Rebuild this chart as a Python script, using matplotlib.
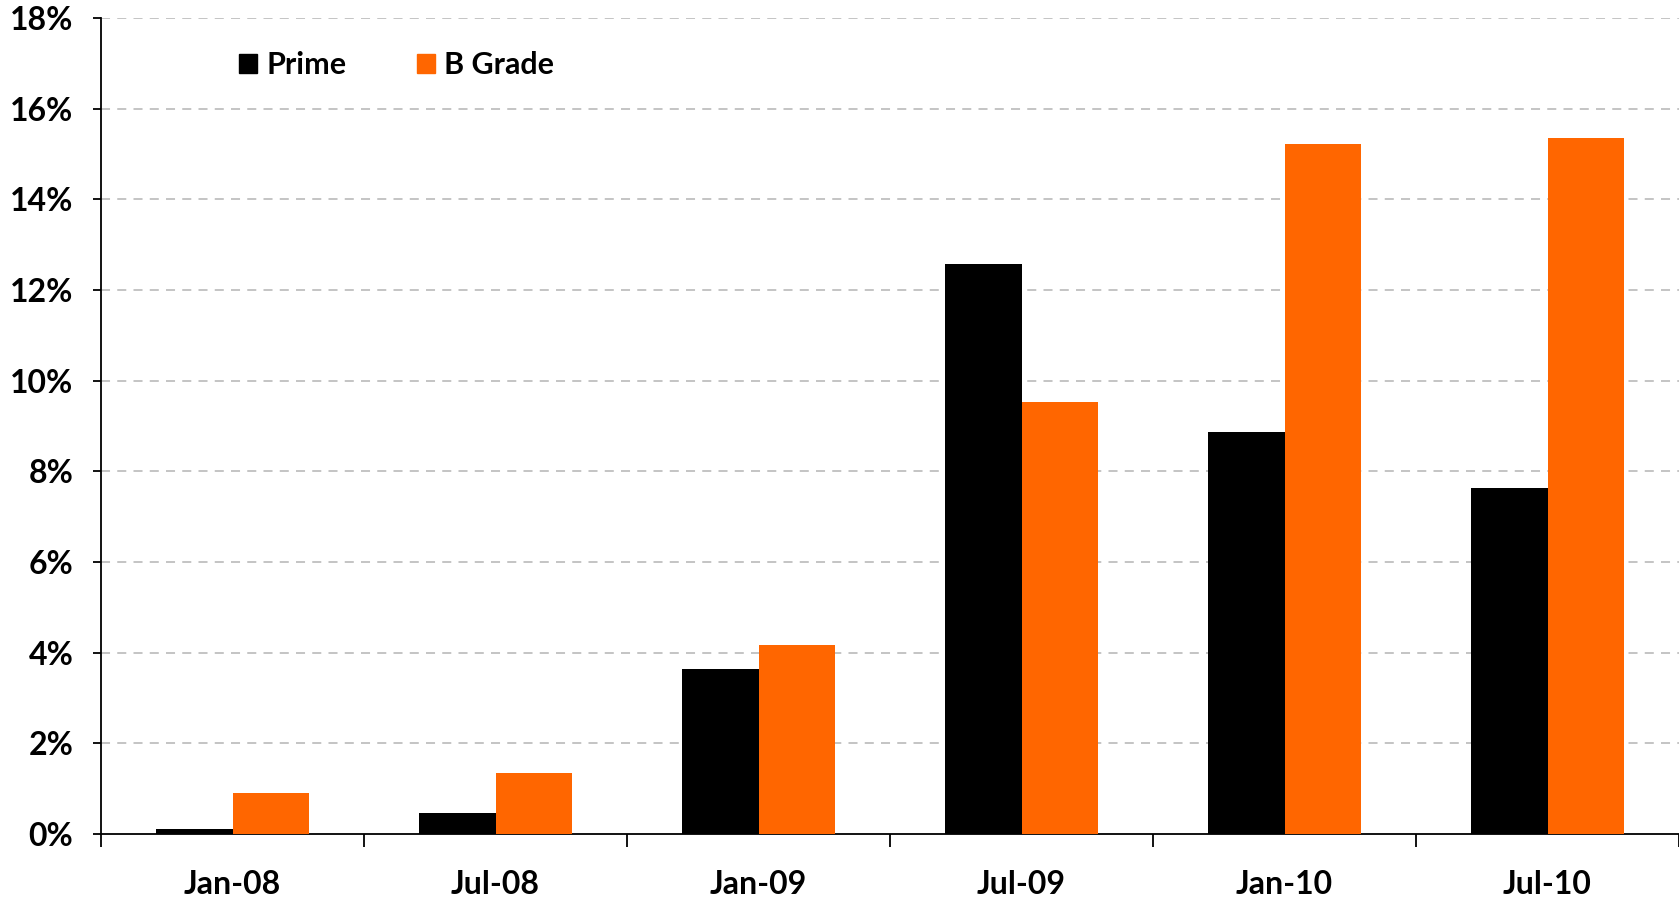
import numpy as np
import matplotlib.pyplot as plt
from matplotlib.patches import Patch
from matplotlib.ticker import FuncFormatter

plt.rcParams['font.family'] = ['Lato', 'DejaVu Sans']
plt.rcParams['font.weight'] = 'bold'

periods = ['Jan-08', 'Jul-08', 'Jan-09', 'Jul-09', 'Jan-10', 'Jul-10']
prime = [0.12, 0.47, 3.64, 12.57, 8.86, 7.63]
b_grade = [0.90, 1.35, 4.18, 9.52, 15.21, 15.35]

BLACK = '#000000'
ORANGE = '#FF6600'

fig = plt.figure(figsize=(16.79, 8.99), dpi=100)
ax = fig.add_axes([0.0602, 0.0723, 0.9398, 0.9077])

x = np.arange(len(periods))
w = 0.29
ax.bar(x - w / 2, prime, width=w, color=BLACK, zorder=3)
ax.bar(x + w / 2, b_grade, width=w, color=ORANGE, zorder=3)

ax.set_xlim(-0.5, len(periods) - 0.5)
ax.set_ylim(0, 18)
ax.set_yticks(np.arange(0, 19, 2))
ax.yaxis.set_major_formatter(FuncFormatter(lambda v, p: f'{v:.0f}%'))
for yv in np.arange(2, 19, 2):
    ax.axhline(yv, color='#BFBFBF', lw=1.3, ls=(0, (5, 4)), zorder=1)

# group boundaries as major ticks, labels on minor ticks at centres
ax.set_xticks(np.arange(-0.5, len(periods), 1))
ax.set_xticklabels([])
ax.set_xticks(x, minor=True)
ax.set_xticklabels(periods, minor=True)
ax.tick_params(axis='x', which='major', length=9, width=1.3, direction='out')
ax.tick_params(axis='x', which='minor', length=0, pad=26, labelsize=23)
ax.tick_params(axis='y', length=6, width=1.3, direction='out', pad=14, labelsize=23)

for s in ['top', 'right']:
    ax.spines[s].set_visible(False)
for s in ['left', 'bottom']:
    ax.spines[s].set_linewidth(1.3)
    ax.spines[s].set_color('#000000')

handles = [Patch(color=BLACK, label='Prime'), Patch(color=ORANGE, label='B Grade')]
ax.legend(handles=handles, loc='upper left', bbox_to_anchor=(0.07, 0.993), ncol=2,
          frameon=False, fontsize=22, handlelength=0.6, handleheight=0.6,
          handletextpad=0.3, columnspacing=2.3)

fig.savefig('out.png', dpi=100)
